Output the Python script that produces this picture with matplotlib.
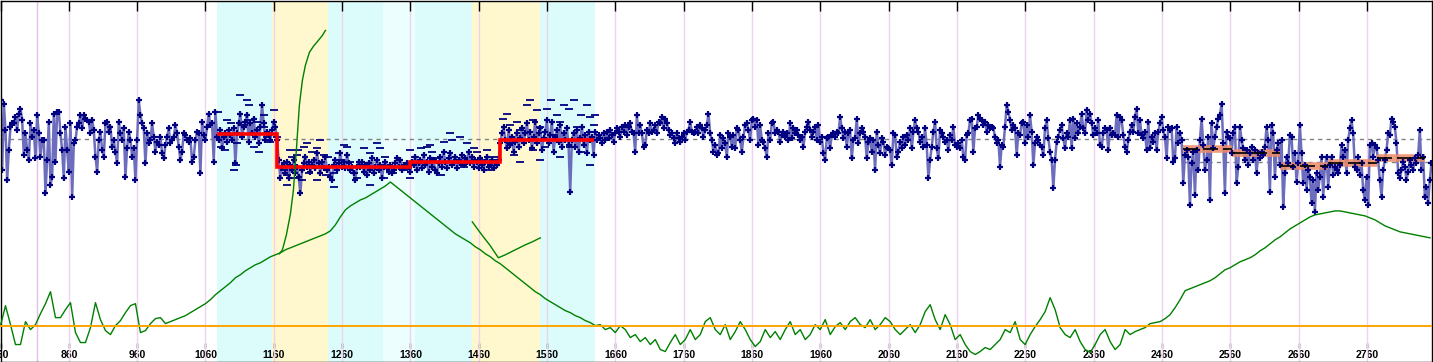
import numpy as np
import matplotlib
matplotlib.use("Agg")
import matplotlib.pyplot as plt

# ---------------- data ----------------
# x axis (age / depth) ticks
tick_vals = [760, 860, 960, 1060, 1160, 1260, 1360, 1460, 1560, 1660, 1760, 1860,
             1960, 2060, 2160, 2260, 2360, 2460, 2560, 2660, 2760]
extra_grid = [814]

# shaded intervals (start, end, colour)
span_start = [1077.5, 1158, 1240, 1320, 1366, 1450.5, 1550]
span_end = [1158, 1240, 1320, 1366, 1450.5, 1550, 1630.5]
span_color = ["#dcfcfc", "#fff8cf", "#dcfcfc", "#edfefe", "#dcfcfc", "#fff8cf", "#dcfcfc"]

# main proxy record (evenly sampled), arbitrary units, axis inverted
blue_start = 760.0
blue_step = 2.438
blue_a = [30, 240, 40, 120, 270, 180, 110, 100, 100, 80, 120, 70, 55, 90, 195, 130, 180, 210, 100, 140, 120, 205, 75,
          130, 200, 150, 150, 310, 210, 95, 285, 260, 70,
          215, 65, 65, 130, 180, 265, 110, 180, 245, 100,
          322, 160, 150, 110, 100, 75, 115, 75, 85, 90,
          95, 130, 90, 120, 200, 245, 150, 125, 180, 200,
          100, 95, 125, 110, 170, 150, 185, 220, 95, 130,
          150, 115, 260, 175, 125, 150, 200, 175, 270, 150,
          30, 75, 100, 115, 220, 130, 160, 150, 100, 140,
          185, 155, 165, 140, 190, 205, 165, 140, 115, 160,
          150, 140, 105, 130, 170, 210, 185, 130, 135, 150,
          155, 145, 215, 200, 150, 125, 130, 250, 95, 135,
          150, 110, 70, 105, 100, 215, 65, 140,
          150, 120, 175, 140, 130, 155, 120, 135, 150, 115,
          220, 130, 100, 70, 140, 110, 95, 75, 155, 100,
          130, 85, 140, 120, 160, 110, 45, 100, 150, 125,
          135, 150, 120, 95, 110, 150, 210, 265, 230, 220,
          250, 215, 265, 225, 240, 210, 250, 230, 260, 310,
          240, 220, 200, 230, 215, 245, 225, 210, 235, 190,
          220, 250, 215, 235, 200, 240, 230, 260, 270, 225,
          210, 240, 220, 190, 230, 215, 235, 195, 220, 240,
          230, 250, 270, 230, 215]
blue_b = [230, 215, 245, 225, 255, 220, 240, 205, 250, 230,
          210, 240, 225, 265, 230, 215, 235, 245, 225, 250,
          240, 220, 205, 230, 210, 240, 225, 235, 220, 230,
          245, 215, 225, 200, 240, 220, 210, 235, 195, 225,
          215, 245, 205, 230, 210, 240, 250, 220, 200, 230,
          185, 215, 235, 205, 190, 225, 215, 200, 235, 210,
          220, 195, 225, 205, 215, 185, 220, 200, 230, 210,
          215, 235, 205, 225, 240, 215, 200, 230, 225, 210,
          235, 215, 225, 210, 160, 130, 110, 150, 175, 120,
          165, 140, 185, 155, 130, 170, 145, 115, 160, 130,
          100, 150, 125, 175, 140, 95, 160, 130, 115, 180,
          145, 125, 90, 160, 135, 95, 185, 140, 120, 155,
          105, 170, 130, 150, 115, 165, 305, 150, 130, 170,
          120, 185, 145, 110, 165, 135, 190, 125, 150, 140,
          195, 125, 150, 135, 145, 160, 130, 150, 125, 145,
          120, 135, 155, 130, 115, 125, 140, 110, 125, 105,
          135, 110, 100, 125, 130, 185, 75, 130, 105, 130,
          170, 165, 120, 130, 100, 125, 120, 105, 130, 95,
          100, 80, 115, 85, 100, 120, 135, 130, 145, 160,
          130, 145, 155, 140, 130, 150, 125, 120, 95, 125,
          130, 125, 110, 130, 105, 115, 140, 120, 105, 70,
          130, 150, 185, 165, 195, 190]
blue_c = [135, 175, 145, 160, 200, 130, 140, 170, 135, 175,
          115, 120, 150, 185, 140, 105, 100, 120, 150, 90,
          85, 110, 90, 165, 105, 150, 155, 175, 200, 130,
          150, 100, 95, 130, 120, 125, 155, 135, 125, 140,
          130, 150, 100, 145, 115, 130, 120, 135, 150, 140,
          170, 125, 110, 95, 120, 140, 125, 110, 150, 105,
          155, 140, 190, 210, 145, 140, 175, 135, 130, 140,
          125, 130, 80, 115, 145, 125, 170, 130, 120, 205,
          150, 145, 85, 160, 130, 115, 125, 140, 205, 155,
          145, 185, 150, 240, 125, 165, 190, 145, 155, 195,
          170, 175, 180, 225, 130, 135, 200, 185, 155, 175,
          140, 165, 135, 150, 115, 175, 125, 90, 115, 125,
          155, 140, 170, 115, 165, 265, 210, 170, 125, 95,
          175, 205, 120, 130, 140, 155, 150, 180, 135, 150,
          110, 165, 170, 160, 175, 150, 200, 210, 135, 130,
          90, 85, 185, 115, 110, 75, 85, 90, 105, 95,
          125, 105, 115, 110, 115, 140, 160, 150, 230, 165,
          170, 110, 45, 65, 90, 120, 105, 115, 195, 130,
          135, 100, 95, 160, 105, 140, 75, 125, 225, 160,
          140, 150, 165, 170, 195, 115, 90, 145, 185, 210,
          295, 210, 155, 140, 120, 105, 145, 175, 130, 140,
          90, 175, 85, 145, 100, 130]
blue_d = [110, 70, 115, 130, 60, 90, 70,
          100, 135, 115, 130, 90, 165, 170, 130, 115, 120,
          180, 115, 135, 130, 135, 75, 140, 80, 90, 135,
          170, 185, 150, 125, 105, 125, 80, 55, 130, 90,
          135, 145, 125, 180, 95, 175, 140, 155, 130, 180,
          125, 100, 80, 120, 140, 205, 110, 120, 115, 215,
          205, 110, 160, 130, 150, 280, 195, 180, 200, 345,
          220, 185, 315, 180, 240, 150, 85, 165, 240, 210,
          140, 330, 100, 175, 140, 110, 85, 75, 40, 160,
          310, 125, 140, 145, 190, 130, 110, 280, 230, 110,
          150, 175, 210, 180, 225, 190, 170, 210, 180, 250,
          190, 205, 185, 195, 170, 110, 150, 305, 105, 130,
          260, 180, 160, 225, 150, 350, 250, 200, 220, 135,
          140, 230, 190, 275, 220, 105, 190, 280, 225, 300,
          240, 260, 340, 270, 365, 250, 300, 260, 200, 320,
          230, 200, 290, 225, 200, 255, 230, 240, 250, 225,
          165, 200, 180, 250, 150, 115, 90, 130, 230, 240,
          200, 255, 220, 300, 330, 260, 345, 165, 160, 200,
          165, 175, 210, 270, 320, 240, 210, 180, 130, 135,
          85, 95, 110, 160, 250, 265, 240, 215, 230, 270,
          245, 210, 225, 240, 205, 220, 195, 120, 240, 200,
          320, 290, 340, 270, 220]

# replicate measurements (dashes) in the shaded interval
rep_x = [1079, 1092, 1097, 1111, 1121, 1123, 1101, 1104, 1131, 1138, 1145, 1150, 1160, 1123, 1116,
         1089, 1106, 1082, 1136, 1145, 1155, 1165, 1175, 1179, 1184, 1187, 1189, 1196, 1204, 1209,
         1216, 1223, 1228, 1233, 1240, 1248, 1255, 1262, 1272, 1277, 1282, 1248, 1223, 1194, 1211,
         1179, 1267, 1257, 1236, 1201,
         1292, 1301, 1311, 1316, 1323, 1335, 1350, 1360, 1367, 1375, 1384, 1389, 1392, 1399, 1409,
         1418, 1421, 1433, 1443, 1453, 1457, 1465, 1472, 1482, 1477, 1438, 1404, 1360, 1321, 1301,
         1496, 1501, 1506, 1516, 1521, 1531, 1535, 1540, 1545, 1550, 1560, 1565, 1575, 1579, 1584,
         1592, 1599, 1604, 1609, 1618, 1623, 1628, 1630, 1511, 1521, 1550, 1579, 1609, 1623, 1540,
         1506, 1557, 1594, 1570]
rep_y = [65, 90, 100, 15, 30, 45, 240, 225, 170, 185, 110, 140, 60, 90, 105,
         180, 160, 170, 95, 75, 155, 140, 240, 255, 180, 200, 265, 180, 170, 160,
         185, 175, 150, 195, 200, 250, 190, 165, 215, 250, 265, 290, 270, 195, 250,
         285, 170, 210, 255, 270,
         175, 190, 160, 175, 200, 250, 240, 180, 200, 175, 170, 165, 185, 205, 155,
         130, 150, 140, 160, 175, 185, 210, 180, 200, 240, 230, 255, 265, 265, 285,
         85, 70, 105, 95, 120, 45, 30, 90, 60, 110, 55, 30, 75, 95, 45,
         55, 30, 110, 75, 45, 80, 105, 75, 195, 215, 210, 200, 185, 225, 180,
         160, 170, 170, 135]

# interval means (red stepped line)
red_edges = [1077.5, 1165, 1360, 1491.5, 1628]
red_levels = [132, 231, 216, 150]

# interval means with uncertainty band (right part)
band_edges = [2491, 2562, 2633, 2703, 2774, 2845]
band_levels = [177, 188, 229, 220, 203]

# reference levels (dashed)
ref_level_all = 147
ref_level_2 = 216
ref2_ranges = [(1294, 1462), (2491, 2855)]

# secondary record (green), evenly sampled, own scale (inverted)
green_start = 760.0
green_step = 7.315
green_main = [326, 306, 325, 345, 345, 322, 330, 325, 314, 304, 292, 318, 318, 310, 303, 333, 343, 343, 328,
              303, 320, 331, 335, 326, 321, 313, 306, 304, 333, 331, 324, 319, 318, 324, 322,
              320, 318, 316, 313, 310, 307, 304, 300, 295, 291, 287, 283, 278, 275, 271, 268, 265,
              263, 260, 257, 255, 253, 250, 248, 246, 244, 242, 240, 238, 236, 234, 231, 225, 217,
              210, 206, 203, 200, 198, 195, 192, 189, 186, 182, 186, 190, 194, 198, 202, 206, 210,
              214, 218, 222, 226, 230, 234, 237, 240, 243, 247, 250, 254, 257, 261, 264, 268, 272,
              276, 280, 284, 288, 292, 295, 299, 302, 305, 308, 311, 313, 316, 318, 321, 323, 326,
              325, 330, 328, 333, 326, 330, 338, 335, 342, 338, 345, 340, 350, 352, 343, 335, 345,
              340, 330, 340, 335, 322, 318, 330, 335, 325, 340, 332, 322, 330, 340, 347, 342, 330,
              338, 332, 340, 330, 322, 335, 330, 340, 335, 325, 330, 320, 335, 327, 323, 330, 322,
              318, 325, 328, 320, 330, 325, 318, 322, 330, 335, 330, 325, 333, 325, 312, 305, 320,
              330, 315, 325, 340, 335, 345, 352, 355, 352, 348, 350, 345, 340, 330, 333, 322, 340,
              345, 335, 327, 320, 312, 298, 310, 328, 335, 338, 330, 342, 350, 353, 345, 335, 330,
              342, 350, 345, 330, 335, 332, 330, 328, 324,
              323, 322, 319, 315, 308, 300, 291, 289, 287, 285, 283, 281, 278, 274, 270, 268, 265,
              262, 260, 258, 255, 251, 248, 244, 240, 237, 233, 229, 226, 223, 220, 217, 215, 214,
              213, 212, 211, 211, 212, 213, 214, 215, 216, 218, 220, 223, 226, 228, 230, 232, 233,
              234, 235, 236, 237, 238]
green_a_x = [1168, 1172.6, 1178.4, 1184.3, 1188.7, 1193.0, 1197.4, 1201.8, 1206.2, 1212.1, 1217.9,
             1225.2, 1231.1, 1235.5]
green_a_y = [254, 250, 235, 214, 190, 150, 105, 80, 65, 52, 46, 40, 35, 30]
green_b_x = [1450.5, 1462.2, 1476.9, 1488.6, 1498.8, 1513.4, 1528.1, 1538.3, 1550]
green_b_y = [222, 233, 246, 258, 255, 250, 245, 242, 238]
green_threshold = 326

# ---------------- plot ----------------
W, H = 1433, 362
fig = plt.figure(figsize=(W / 100, H / 100), dpi=100)
ax = fig.add_axes([0.5 / W, 0.5 / H, 1 - 1.5 / W, 1 - 1.0 / H])
ax.set_xlim(760, 2855)
ax.set_ylim(816, -270)

for s, e, c in zip(span_start, span_end, span_color):
    ax.axvspan(s, e, color=c, lw=0, zorder=0)
for t in tick_vals[1:]:
    ax.axvline(t, color="#efd2ef", lw=1, zorder=0.5)
for t in extra_grid:
    ax.axvline(t, color="#e6bfe6", lw=1, zorder=0.5)

ax.axhline(ref_level_all, color="#808080", lw=1, ls=(0, (3, 3)), zorder=1)
for a, b in ref2_ranges:
    ax.hlines(ref_level_2, a, b, color="#808080", lw=1, ls=(0, (3, 3)), zorder=1)

blue = np.array(blue_a + blue_b + blue_c + blue_d, dtype=float)
bx = blue_start + blue_step * np.arange(len(blue))
ax.plot(bx, blue, color="#6d6dbd", lw=1.8, zorder=2.2)
ax.plot(bx, blue, ls="none", marker="+", ms=4, mew=1.6, color="#000080", zorder=2.4)
ax.plot(rep_x, rep_y, ls="none", marker="_", ms=6, mew=1.3, color="#000080", zorder=2.5)

ax.hlines(band_levels, band_edges[:-1], band_edges[1:], color="#ec8a68", lw=5.5,
          alpha=0.85, zorder=2.3)
ax.hlines(band_levels, band_edges[:-1], band_edges[1:], color="black", lw=1.2,
          ls=(0, (9, 3)), zorder=3)
ax.stairs(red_levels, red_edges, baseline=None, color="#ff0000", lw=2.6, zorder=3)

ax.set_yticks([])
ax.set_xticks(tick_vals)
ax.tick_params(axis="x", which="both", direction="in", length=7.2, width=1, color="black",
               top=True, bottom=False, labeltop=False, labelbottom=False)
for sp in ax.spines.values():
    sp.set_color("black")
    sp.set_linewidth(1)

sec = ax.secondary_xaxis(14 / H)
sec.set_xticks(tick_vals, labels=[str(t) for t in tick_vals])
sec.tick_params(direction="in", length=3.6, width=1, pad=1.6, labelsize=7.5, colors="black")
sec.spines[["top", "bottom"]].set_visible(False)
for lbl in sec.get_xticklabels():
    lbl.set_fontweight("bold")
    lbl.set_fontfamily("Liberation Sans")

ax2 = ax.twinx()
ax2.set_ylim(362, 0)
ax2.set_yticks([])
for sp in ax2.spines.values():
    sp.set_visible(False)
gx = green_start + green_step * np.arange(len(green_main))
ax2.plot(gx, green_main, color="#008000", lw=1.0, zorder=2)
ax2.plot(green_a_x, green_a_y, color="#008000", lw=1.0, zorder=2)
ax2.plot(green_b_x, green_b_y, color="#008000", lw=1.0, zorder=2)
ax2.axhline(green_threshold, color="#ffa500", lw=1.4, zorder=3)

fig.savefig("out.png", dpi=100)
